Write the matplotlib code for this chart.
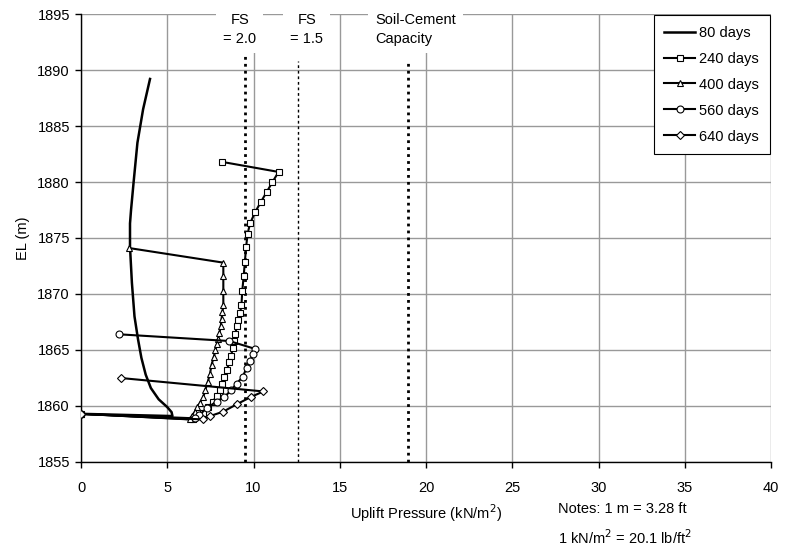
import numpy as np
import matplotlib
matplotlib.use("Agg")
from matplotlib import pyplot as plt

plt.rcParams['font.family'] = ['Liberation Sans', 'DejaVu Sans']
plt.rcParams['font.size'] = 10

# series (uplift pressure kN/m2, elevation m)
x80 = [4.0, 3.6, 3.27, 3.05, 2.9, 2.84, 2.84, 2.95, 3.1, 3.3, 3.5, 3.75, 4.05, 4.5,
       5.0, 5.25, 5.3, 0.0]
y80 = [1889.2, 1886.5, 1883.5, 1880.0, 1877.5, 1876.3, 1874.2, 1871.0, 1868.0, 1866.0,
       1864.3, 1862.8, 1861.6, 1860.6, 1859.9, 1859.45, 1859.1, 1859.3]

x240 = [8.16, 11.45, 11.1, 10.76, 10.42, 10.09, 9.8, 9.66, 9.57, 9.5, 9.43, 9.35, 9.3,
        9.22, 9.12, 9.02, 8.95, 8.87, 8.8, 8.7, 8.6, 8.45, 8.3, 8.2, 8.05, 7.86, 7.65,
        7.38, 7.09, 6.8, 6.5, 0.0]
y240 = [1881.8, 1880.9, 1880.0, 1879.1, 1878.2, 1877.3, 1876.3, 1875.4, 1874.2, 1872.9,
        1871.6, 1870.3, 1869.0, 1868.3, 1867.7, 1867.1, 1866.4, 1865.8, 1865.15, 1864.5,
        1863.9, 1863.2, 1862.6, 1862.0, 1861.4, 1860.9, 1860.4, 1859.9, 1859.4, 1859.1,
        1858.8, 1859.3]

x400 = [2.8, 8.25, 8.25, 8.25, 8.25, 8.2, 8.15, 8.1, 8.02, 7.95, 7.87, 7.79, 7.7, 7.57,
        7.48, 7.34, 7.2, 7.09, 6.9, 6.74, 6.6, 6.42, 6.3, 0.0]
y400 = [1874.1, 1872.8, 1871.6, 1870.3, 1869.0, 1868.4, 1867.8, 1867.1, 1866.5, 1866.0,
        1865.5, 1865.0, 1864.4, 1863.7, 1862.9, 1862.1, 1861.4, 1860.8, 1860.3, 1859.9,
        1859.5, 1859.1, 1858.8, 1859.3]

x560 = [2.22, 8.6, 10.09, 9.95, 9.8, 9.6, 9.37, 9.02, 8.7, 8.31, 7.86, 7.28, 6.86, 6.6, 0.0]
y560 = [1866.4, 1865.8, 1865.1, 1864.6, 1864.0, 1863.4, 1862.6, 1862.0, 1861.4, 1860.8,
        1860.4, 1859.8, 1859.2, 1858.9, 1859.3]

x640 = [2.3, 10.57, 9.84, 9.02, 8.25, 7.48, 7.09, 0.0]
y640 = [1862.5, 1861.3, 1860.8, 1860.15, 1859.5, 1859.1, 1858.8, 1859.3]

fig = plt.figure(figsize=(7.85, 5.47), dpi=100)
ax = fig.add_axes([0.1032, 0.1554, 0.879, 0.819])

mk = dict(color='black', lw=1.5, markersize=5, markerfacecolor='white',
          markeredgecolor='black', markeredgewidth=0.8)
ax.plot(x80, y80, color='black', lw=1.8, label='80 days', zorder=3)
ax.plot(x240, y240, marker='s', label='240 days', zorder=3, **mk)
ax.plot(x400, y400, marker='^', label='400 days', zorder=3, **mk)
ax.plot(x560, y560, marker='o', label='560 days', zorder=3, **mk)
ax.plot(x640, y640, marker='D', label='640 days', zorder=3,
        **{**mk, 'markersize': 4})

# reference lines
ax.axvline(9.5, ymax=0.907, color='black', lw=2, ls=(0, (1, 1.5)), zorder=2)
ax.axvline(12.6, ymax=0.895, color='black', lw=1, ls=(0, (2, 2)), zorder=2)
ax.axvline(18.95, ymax=0.895, color='black', lw=2, ls=(0, (1, 1.5)), zorder=2)

box = dict(facecolor='white', edgecolor='none', pad=5)
ax.text(9.2, 1895.05, 'FS\n= 2.0', ha='center', va='top', fontsize=10.5,
        bbox=box, zorder=5, linespacing=1.45)
ax.text(13.1, 1895.05, 'FS\n= 1.5', ha='center', va='top', fontsize=10.5,
        bbox=box, zorder=5, linespacing=1.45)
ax.text(17.05, 1895.05, 'Soil-Cement\nCapacity', ha='left', va='top', fontsize=10.5,
        bbox=box, zorder=5, linespacing=1.45)

ax.set_xlim(0, 40)
ax.set_ylim(1855, 1895)
ax.set_xticks(np.arange(0, 41, 5))
ax.set_yticks(np.arange(1855, 1896, 5))
ax.grid(True, color='#999999', lw=1, zorder=0)
ax.set_axisbelow(True)
for s in ['top', 'right']:
    ax.spines[s].set_visible(False)
for s in ['left', 'bottom']:
    ax.spines[s].set_linewidth(1)
ax.tick_params(direction='out', length=4, width=1, labelsize=10.5, pad=10)
ax.tick_params(axis='y', pad=4)

ax.set_xlabel('Uplift Pressure (kN/m$^2$)', fontsize=10.5, labelpad=5)
ax.set_ylabel('EL (m)', fontsize=10.5, labelpad=5)

leg = ax.legend(loc='upper right', bbox_to_anchor=(1.0, 1.0), borderaxespad=0.05,
                fancybox=False, edgecolor='black', framealpha=1, fontsize=10.5,
                handlelength=2.1, handletextpad=0.3, labelspacing=0.82,
                borderpad=0.75)
leg.get_frame().set_linewidth(0.8)

fig.text(0.711, 0.062, 'Notes: 1 m = 3.28 ft', fontsize=10.5)
fig.text(0.711, 0.006, '1 kN/m$^2$ = 20.1 lb/ft$^2$', fontsize=10.5)

fig.savefig('out.png', dpi=100)
